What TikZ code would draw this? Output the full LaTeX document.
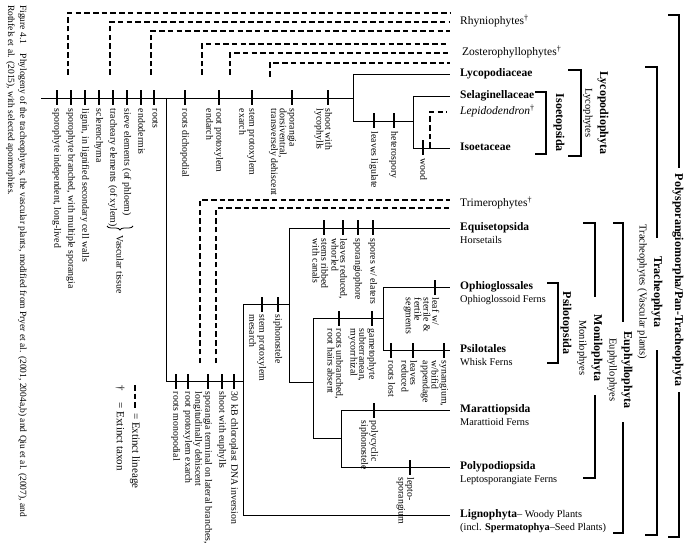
\documentclass[tikz,border=0pt]{standalone}
\usepackage{fontspec}
\setmainfont{Liberation Serif}
\usetikzlibrary{calc,decorations.pathreplacing}
\newcommand\apomorph[4]{%
  \node[tk] (#1) at (#2,#3) {};
  \node[apo] (#1l) at ($(#1.south)+(4.4,3)$) {#4};}
\begin{document}
\begin{tikzpicture}[x=1pt,y=-1pt,
  ln/.style={line width=0.9pt},
  dl/.style={line width=1.1pt,dash pattern=on 5.5pt off 3.2pt},
  tk/.style={fill=black,inner sep=0pt,minimum width=2.7pt,minimum height=15pt},
  apo/.style={rotate=-90,anchor=north west,align=left,inner sep=0pt,font=\fontsize{9.8}{8.8}\selectfont},
  tax/.style={anchor=west,inner sep=0pt,text height=8pt,text depth=2.5pt,font=\fontsize{11.5}{13}\selectfont\bfseries},
  taxr/.style={anchor=west,inner sep=0pt,text height=8pt,text depth=2.5pt,font=\fontsize{11.5}{13}\selectfont},
  subt/.style={anchor=west,inner sep=0pt,text height=7pt,text depth=2pt,font=\fontsize{10.3}{12}\selectfont},
  brk/.style={line width=1.8pt},
  rlab/.style={rotate=-90,inner sep=0pt,font=\fontsize{12}{14}\selectfont\bfseries},
  rsub/.style={rotate=-90,inner sep=0pt,font=\fontsize{10.5}{12}\selectfont},
  tips/.style={ln,shorten >=10pt}
]
\useasboundingbox (0,0) rectangle (690,545);
\fill[white] (0,0) rectangle (690,545);

% caption
\node[rotate=-90,anchor=north west,align=left,inner sep=0pt,font=\fontsize{9.5}{12}\selectfont] (cap) at (27,5)
 {Figure 4.1\quad Phylogeny of the tracheophytes, the vascular plants, modified from Pryer et al. (2001, 2004a,b) and Qiu et al. (2007), and\\Rothfels et al. (2015), with selected apomorphies.};

% taxon labels
\node[taxr] (rhy) at (460,22) {Rhyniophytes\textsuperscript{†}};
\node[taxr] (zos) at (462,53) {Zosterophyllophytes\textsuperscript{†}};
\node[tax] (lyc) at (460,74) {Lycopodiaceae};
\node[tax] (sel) at (460,96) {Selaginellaceae};
\node[taxr] (lep) at (460,112) {\textit{Lepidodendron}\textsuperscript{†}};
\node[tax] (iso) at (460,148) {Isoetaceae};
\node[taxr] (tri) at (460,204) {Trimerophytes\textsuperscript{†}};
\node[tax] (equ) at (460,228) {Equisetopsida};
\node[subt] (equs) at (460,241) {Horsetails};
\node[tax] (oph) at (460,287) {Ophioglossales};
\node[subt] (ophs) at (460,300) {Ophioglossoid Ferns};
\node[tax] (psi) at (460,350) {Psilotales};
\node[subt] (psis) at (460,363) {Whisk Ferns};
\node[tax] (mar) at (460,410) {Marattiopsida};
\node[subt] (mars) at (460,423) {Marattioid Ferns};
\node[tax] (pol) at (460,467) {Polypodiopsida};
\node[subt] (pols) at (460,480) {Leptosporangiate Ferns};
\node[tax] (lig) at (460,515) {Lignophyta{\mdseries\fontsize{10.3}{12}\selectfont– Woody Plants}};
\node[subt] (ligs) at (460,528) {(incl. \textbf{Spermatophya}–Seed Plants)};

% extinct lineages (dashed)
\coordinate (x1) at (68,75);  \coordinate (x1e) at (450,13);
\coordinate (x2) at (110,75); \coordinate (x2e) at (450,22);
\coordinate (x3) at (151,75); \coordinate (x3e) at (450,31);
\coordinate (x4) at (202,75); \coordinate (x4e) at (448,44);
\coordinate (x5) at (230,75); \coordinate (x5e) at (450,53);
\coordinate (x6) at (270,77); \coordinate (x6e) at (450,63);
\coordinate (x7) at (200,363); \coordinate (x7e) at (450,200);
\coordinate (x8) at (216,363); \coordinate (x8e) at (450,208);
\foreach \i in {1,...,8} {\draw[dl] (x\i) |- (x\i e);}

% main trunk and lycophytes
\coordinate (root) at (41,98);
\coordinate (nLy) at (353,98);
\coordinate (nEu) at (166,98);
\draw[ln] (root) -- (nLy);
\coordinate (ly1) at (353,74); \coordinate (ly2) at (353,121);
\draw[ln] (ly1) -- (ly2);
\draw[tips] (ly1) -- (lyc.west);
\coordinate (is0) at (413,121);
\draw[ln] (ly2) -- (is0);
\coordinate (is1) at (413,96); \coordinate (is2) at (413,148);
\draw[ln] (is1) -- (is2);
\draw[tips] (is1) -- (sel.west);
\draw[tips] (is2) -- (iso.west);
\coordinate (lp0) at (430,148);
\draw[dl,shorten >=13pt] (lp0) |- (lep.west);

% euphyllophytes
\coordinate (eu1) at (166,381); \coordinate (eu2) at (243,381);
\draw[ln] (nEu) -- (eu1) -- (eu2);
\coordinate (a1) at (243,304); \coordinate (a2) at (243,515);
\draw[ln] (a1) -- (a2);
\draw[tips] (a2) -- (lig.west);
\coordinate (m0) at (289,304);
\draw[ln] (a1) -- (m0);
\coordinate (m1) at (289,228); \coordinate (m2) at (289,382);
\draw[ln] (m1) -- (m2);
\draw[tips] (m1) -- (equ.west);
\coordinate (p0) at (313,382);
\draw[ln] (m2) -- (p0);
\coordinate (p1) at (313,318); \coordinate (p2) at (313,438);
\draw[ln] (p1) -- (p2);
\coordinate (ps0) at (383,318);
\draw[ln] (p1) -- (ps0);
\coordinate (ps1) at (383,287); \coordinate (ps2) at (383,350);
\draw[ln] (ps1) -- (ps2);
\draw[tips] (ps1) -- (oph.west);
\draw[tips] (ps2) -- (psi.west);
\coordinate (mp0) at (341,438);
\draw[ln] (p2) -- (mp0);
\coordinate (mp1) at (341,410); \coordinate (mp2) at (341,467);
\draw[ln] (mp1) -- (mp2);
\draw[tips] (mp1) -- (mar.west);
\draw[tips] (mp2) -- (pol.west);

% apomorphies
\apomorph{t1}{57}{98}{sporophyte independent, long-lived}
\apomorph{t2}{71}{98}{sporophyte branched, with multiple sporangia}
\apomorph{t3}{85}{98}{lignin, in lignified secondary cell walls}
\apomorph{t4}{99}{98}{sclerenchyma}
\apomorph{t5}{113}{98}{tracheary elements (of xylem)}
\apomorph{t6}{127}{98}{sieve elements (of phloem)}
\apomorph{t7}{141}{98}{endodermis}
\apomorph{t8}{154}{98}{roots}
\apomorph{t9}{185}{98}{roots dichopodial}
\apomorph{t10}{219}{98}{root protoxylem\\endarch}
\apomorph{t11}{252}{98}{stem protoxylem\\exarch}
\apomorph{t12}{292}{98}{sporangia\\dorsiventral,\\transversely dehiscent}
\apomorph{t13}{328}{98}{shoot with\\lycophylls}
\apomorph{l1}{374}{121}{leaves ligulate}
\apomorph{l2}{394}{121}{heterospory}
\apomorph{l3}{423}{148}{wood}
\apomorph{e1}{176}{381}{roots monopodial}
\apomorph{e2}{188}{381}{root protoxylem exarch}
\apomorph{e3}{208}{381}{sporangia terminal on lateral branches,\\longitudinally dehiscent}
\apomorph{e4}{222}{381}{shoot with euphylls}
\apomorph{e5}{234}{381}{30 kB chloroplast DNA inversion}
\apomorph{e6}{262}{304}{stem protoxylem\\mesarch}
\apomorph{e7}{278}{304}{siphonostele}
\apomorph{q1}{324}{228}{stems ribbed\\with canals}
\apomorph{q2}{343}{228}{leaves reduced,\\whorled}
\apomorph{q3}{358}{228}{sporangiophore}
\apomorph{q4}{373}{228}{spores w/ elaters}
\apomorph{f1}{339}{318}{roots unbranched,\\root hairs absent}
\apomorph{f2}{372}{318}{gametophyte\\subterranean,\\mycorrhizal}
\apomorph{o1}{435}{287}{leaf w/\\sterile \&\\fertile\\segments}
\apomorph{s1}{391}{350}{roots lost}
\apomorph{s2}{413}{350}{leaves\\reduced}
\apomorph{s3}{444}{350}{synangium,\\w/bifid\\appendage}
\apomorph{m1}{374}{410}{polycyclic\\siphonostele}
\apomorph{pp1}{410}{467}{lepto-\\sporangium}

% vascular tissue brace
\draw[decorate,decoration={brace,amplitude=4pt},line width=0.8pt] (133,226) -- (107,226);
\node[rotate=-90,anchor=west,inner sep=0pt,font=\fontsize{9.8}{10}\selectfont] (vt) at (120,235) {Vascular tissue};

% legend
\node[rotate=-90,anchor=west,inner sep=0pt,font=\fontsize{11}{13}\selectfont] (leg1) at (120,385) {†\hspace{1.1em}= Extinct taxon};
\coordinate (lg0) at (135,385); \coordinate (lg1) at (135,409);
\draw[dl] (lg0) -- (lg1);
\node[rotate=-90,anchor=west,inner sep=0pt,font=\fontsize{11}{13}\selectfont] (leg2) at (135,413) {= Extinct lineage};

% brackets and clade names
\draw[brk] (535,92) -- (546,92) -- (546,154) -- (535,154);
\node[rlab] (isop) at (559,123) {Isoetopsida};
\draw[brk] (568,70) -- (581,70) -- (581,156) -- (568,156);
\node[rlab] (lycp) at (603,113) {Lycopodiophyta};
\node[rsub] (lycs) at (588,113) {Lycophytes};
\draw[brk] (547,283) -- (558,283) -- (558,363) -- (547,363);
\node[rlab] (psip) at (566,323) {Psilotopsida};
\draw[brk] (583,223) -| (595,297);
\draw[brk] (595,395) |- (583,478);
\node[rlab] (monp) at (597,348) {Monilophyta};
\node[rsub] (mons) at (582,348) {Monilophyes};
\draw[brk] (613,223) -| (623,322);
\draw[brk] (623,422) |- (613,533);
\node[rlab] (eup) at (627,370) {Euphyllophyta};
\node[rsub] (eus) at (612,370) {Euphyllophyes};
\draw[brk] (645,67) -| (657,238);
\draw[brk] (657,350) |- (645,535);
\node[rlab] (trp) at (657,292) {Tracheophyta};
\node[rsub] (trs) at (642,292) {Tracheophytes (Vascular plants)};
\node[rlab] (poly) at (678,280) {Polysporangiomorpha/Pan-Tracheophyta};
\draw[brk] (668,15) -| ($(poly.west)+(1,-6)$);
\draw[brk] ($(poly.east)+(1,6)$) |- (668,537);
\end{tikzpicture}
\end{document}
